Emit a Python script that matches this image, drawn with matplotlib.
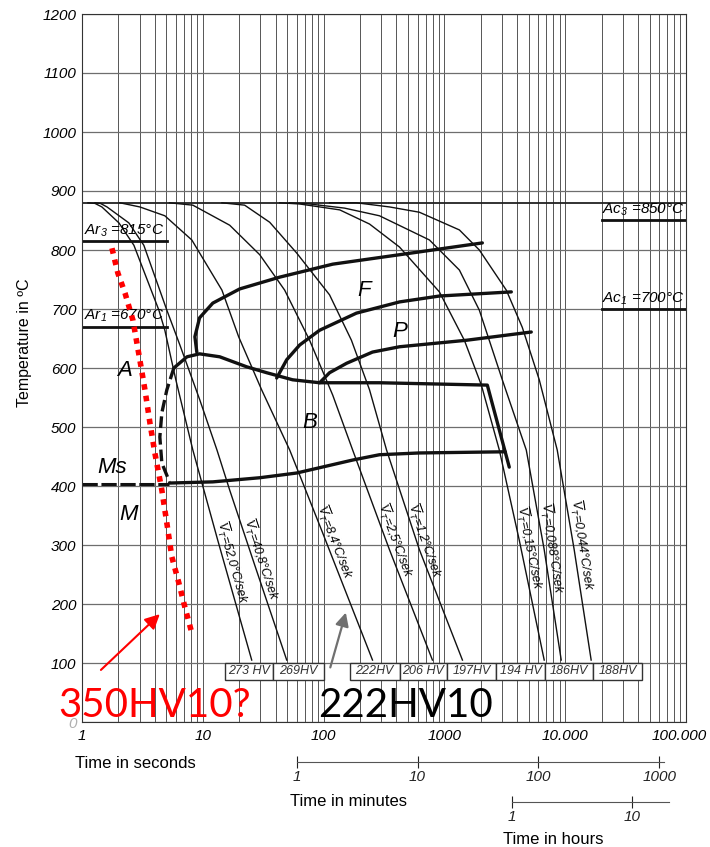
import numpy as np
import matplotlib
matplotlib.use('Agg')
import matplotlib.pyplot as plt
import matplotlib.transforms as mtransforms
from matplotlib.patches import Rectangle
from matplotlib.ticker import LogLocator, NullFormatter, FixedLocator

plt.rcParams['font.family'] = ['Liberation Sans', 'DejaVu Sans']
plt.rcParams['mathtext.fontset'] = 'custom'
plt.rcParams['mathtext.it'] = 'Liberation Sans:italic'
plt.rcParams['mathtext.rm'] = 'Liberation Sans:italic'

# Abkuehlkurven: Zeit [s], Temperatur [°C]
t_52 = [1.12, 1.28, 1.46, 2.02, 2.69, 4.33, 4.85, 5.98, 8.27, 13.3, 25.4]
T_52 = [880, 879, 873, 846, 808, 698, 664, 580, 461, 308, 105]
t_41 = [1.28, 1.42, 1.61, 2.44, 3.25, 5.04, 6.46, 9.44, 13.1, 16.7, 26.9, 49.5]
T_41 = [880, 879, 873, 846, 808, 698, 639, 546, 461, 393, 266, 105]
t_8 = [2.06, 3.01, 4.85, 8.11, 14.4, 19.8, 30.7, 52.4, 96.3, 254]
T_8 = [880, 873, 858, 817, 732, 653, 563, 461, 325, 105]
t_25 = [5.3, 8.27, 16.7, 29.6, 47.6, 76.6, 119, 174, 351, 796]
T_25 = [880, 876, 842, 792, 732, 647, 554, 461, 292, 105]
t_12 = [14.4, 22.2, 35.8, 59.8, 112, 170, 240, 332, 621, 1410]
T_12 = [880, 876, 847, 795, 724, 647, 563, 461, 292, 105]
t_015 = [43.3, 63.4, 136, 240, 425, 909, 1463, 2023, 2849, 4168, 6702]
T_015 = [880, 878, 868, 844, 805, 729, 647, 571, 461, 308, 105]
t_0088 = [52.4, 76.6, 149, 290, 752, 1331, 1946, 3015, 4762, 6702, 9270]
T_0088 = [880, 878, 871, 858, 817, 766, 698, 580, 461, 292, 105]
t_0044 = [112, 187, 351, 621, 1331, 1946, 3254, 4411, 6100, 8590, 11870, 16400]
T_0044 = [880, 880, 873, 864, 834, 800, 732, 669, 580, 461, 292, 105]

v_labels = ['52,0', '40,8', '8,4', '2,5', '1,2', '0,15', '0,088', '0,044']
v_label_T = [266, 271, 300, 303, 303, 292, 292, 297]

# Haerte je Abkuehlkurve
hv_labels = ['273 HV', '269HV', '222HV', '206 HV', '197HV', '194 HV', '186HV', '188HV']
hv_edges = [(15.2, 37.9), (37.9, 100), (164, 425), (425, 1059), (1059, 2692),
            (2692, 6839), (6839, 17030), (17030, 43300)]

# Umwandlungslinien
t_fs = [8.92, 8.6, 9.4, 12.1, 20.2, 43.3, 119, 425, 2061]
T_fs = [627, 653, 685, 710, 734, 754, 776, 792, 812]
t_fe = [40.9, 49.5, 63.4, 92.7, 187, 425, 909, 3580]
T_fe = [583, 614, 639, 664, 693, 712, 722, 729]
t_pe = [92.7, 112, 155, 254, 425, 1520, 5236]
T_pe = [575, 592, 608, 627, 636, 647, 661]
t_bs = [5.76, 7.4, 9.4, 13.8, 23.1, 33.8, 55.4, 92.7, 290, 2266, 3444]
T_bs = [600, 619, 624, 619, 602, 592, 580, 575, 575, 571, 432]
t_dash = [5.76, 5.04, 4.58, 4.41, 4.58, 5.3]
T_dash = [600, 563, 524, 483, 439, 407]
t_low = [5.3, 12.1, 29.6, 59.8, 174, 290, 621, 3186]
T_low = [405, 407, 414, 422, 444, 453, 456, 458]
t_ms = [1, 5.3]
T_ms = [403, 403]

T_aust = 880
Ar3, Ar1, Ac3, Ac1 = 815, 670, 850, 700

# rote Markierung
red_t = [1.77, 1.98, 2.27, 2.64, 3.01, 3.32, 3.65, 4.01, 4.58, 5.04, 5.54, 6.33, 7.10, 8.11]
red_T = [803, 761, 727, 681, 614, 563, 507, 456, 393, 337, 280, 236, 195, 151]

fig = plt.figure(figsize=(7.1, 8.47), dpi=100)
ax = fig.add_axes([82 / 710, 1 - 722 / 847, 604 / 710, 708 / 847])
ax.set_xscale('log')
ax.set_xlim(1, 1e5)
ax.set_ylim(0, 1200)

# Gitter
ax.set_yticks(range(0, 1201, 100))
ax.xaxis.set_major_locator(FixedLocator([1, 10, 100, 1000, 1e4, 1e5]))
ax.xaxis.set_minor_locator(LogLocator(base=10, subs=range(2, 10)))
ax.xaxis.set_minor_formatter(NullFormatter())
ax.grid(axis='y', color='#6e6e6e', lw=0.9)
ax.grid(axis='x', which='both', color='#3a3a3a', lw=0.6)
ax.set_axisbelow(True)
ax.tick_params(which='both', length=0)
ax.set_xticklabels(['1', '10', '100', '1000', '10.000', '100.000'],
                   fontstyle='italic', fontsize=11)
ax.set_yticklabels([str(v) for v in range(0, 1201, 100)], fontstyle='italic', fontsize=11)
ax.get_yticklabels()[0].set_color('#b0b0b0')
ax.tick_params(axis='x', pad=5)
ax.tick_params(axis='y', pad=4)
lab_last = ax.get_xticklabels()[-1]
lab_last.set_transform(lab_last.get_transform() +
                       mtransforms.ScaledTranslation(-5 / 72, 0, fig.dpi_scale_trans))
for s in ax.spines.values():
    s.set_color('#333333')
    s.set_linewidth(0.8)

# Austenitisierungstemperatur
ax.plot([1, 1e5], [T_aust, T_aust], color='#222222', lw=1.3)

curves = [(t_52, T_52), (t_41, T_41), (t_8, T_8), (t_25, T_25),
          (t_12, T_12), (t_015, T_015), (t_0088, T_0088), (t_0044, T_0044)]
for tt, TT in curves:
    ax.plot(tt, TT, color='#111111', lw=1.0, solid_joinstyle='round')

# Beschriftung der Kurven
for (tt, TT), lab, Tl in zip(curves, v_labels, v_label_T):
    lt = np.log10(tt)
    tx = 10 ** np.interp(Tl, TT[::-1], lt[::-1])
    tx2 = 10 ** np.interp(Tl - 20, TT[::-1], lt[::-1])
    p1 = ax.transData.transform((tx, Tl))
    p2 = ax.transData.transform((tx2, Tl - 20))
    ang = np.degrees(np.arctan2(p2[1] - p1[1], p2[0] - p1[0]))
    r = np.radians(ang)
    off = (-np.sin(r) * 6, np.cos(r) * 6)
    ax.annotate(r'$\overline{V}_T$=' + lab + '°C/sek', (tx, Tl), xytext=off,
                textcoords='offset points', rotation=ang, rotation_mode='anchor',
                ha='center', va='center', fontsize=9, fontstyle='italic')

# Umwandlungslinien
thick = dict(color='#111111', lw=2.4, solid_capstyle='round', solid_joinstyle='round')
ax.plot(t_fs, T_fs, **thick)
ax.plot(t_fe, T_fe, **thick)
ax.plot(t_pe, T_pe, **thick)
ax.plot(t_bs, T_bs, **thick)
ax.plot(t_low, T_low, **thick)
ax.plot(t_dash, T_dash, color='#111111', lw=2.4, dashes=(3.5, 1.5))
ax.plot(t_ms, T_ms, color='#111111', lw=2.2, dashes=(5, 1.2))

# Ar / Ac
ax.plot([1, 5.04], [Ar3, Ar3], color='#111111', lw=2.0)
ax.plot([1, 5.04], [Ar1, Ar1], color='#111111', lw=2.0)
ax.plot([20200, 1e5], [Ac3, Ac3], color='#111111', lw=2.0)
ax.plot([20200, 1e5], [Ac1, Ac1], color='#111111', lw=2.0)
ax.text(1.03, Ar3 + 4, r'$Ar_3$' + ' =%d°C' % Ar3, fontsize=11, fontstyle='italic', va='bottom')
ax.text(1.03, Ar1 + 4, r'$Ar_1$' + ' =%d°C' % Ar1, fontsize=11, fontstyle='italic', va='bottom')
ax.text(97000, Ac3 + 4, r'$Ac_3$' + ' =%d°C' % Ac3, fontsize=11, fontstyle='italic',
        va='bottom', ha='right')
ax.text(97000, Ac1 + 4, r'$Ac_1$' + ' =%d°C' % Ac1, fontsize=11, fontstyle='italic',
        va='bottom', ha='right')

# Gefuegebereiche
for s, (tx, ty) in zip(['F', 'P', 'A', 'B', 'Ms', 'M'],
                       [(218, 732), (425, 662), (2.27, 595), (76.6, 507), (1.77, 432), (2.45, 351)]):
    ax.text(tx, ty, s, fontsize=16, fontstyle='italic', ha='center', va='center')

# Haertewerte
for (a, b), lab in zip(hv_edges, hv_labels):
    ax.add_patch(Rectangle((a, 72), b - a, 28, facecolor='white', edgecolor='#333333',
                           lw=1.0, zorder=4))
    ax.text(np.sqrt(a * b), 86, lab, fontsize=9, fontstyle='italic', color='#333333',
            ha='center', va='center', zorder=5)

# Markierungen
ax.plot(red_t, red_T, color='red', lw=4, dashes=(1, 1.1), zorder=6)
ax.annotate('', xy=(4.58, 186), xytext=(1.38, 85),
            arrowprops=dict(arrowstyle='-|>', color='red', lw=1.5, mutation_scale=22), zorder=6)
ax.annotate('', xy=(155, 190), xytext=(112, 88),
            arrowprops=dict(arrowstyle='-|>', color='#707070', lw=1.6, mutation_scale=20), zorder=6)
fig.text(58 / 710, 1 - 717 / 847, '350HV10?', color='red', fontsize=29, family='Lato',
         va='baseline', ha='left')
fig.text(318 / 710, 1 - 717 / 847, '222HV10', color='black', fontsize=29, family='Lato',
         va='baseline', ha='left')

# Zeitskalen Minuten / Stunden
sec_m = ax.secondary_xaxis(-40 / 708, functions=(lambda x: x / 60, lambda x: x * 60))
sec_m.set_xticks([1, 10, 100, 1000])
sec_m.set_xticklabels(['1', '10', '100', '1000'], fontstyle='italic', fontsize=11)
sec_m.xaxis.set_minor_locator(FixedLocator([]))
sec_m.tick_params(direction='inout', length=8, width=0.8, pad=2, colors='#222222')
sec_m.spines['bottom'].set_bounds(1, 1100)
sec_m.spines['bottom'].set_color('#555555')

sec_h = ax.secondary_xaxis(-80 / 708, functions=(lambda x: x / 3600, lambda x: x * 3600))
sec_h.set_xticks([1, 10])
sec_h.set_xticklabels(['1', '10'], fontstyle='italic', fontsize=11)
sec_h.xaxis.set_minor_locator(FixedLocator([]))
sec_h.tick_params(direction='inout', length=8, width=0.8, pad=2, colors='#222222')
sec_h.spines['bottom'].set_bounds(1, 20)
sec_h.spines['bottom'].set_color('#555555')

fig.text(75 / 710, 1 - 763 / 847, 'Time in seconds', fontsize=12, va='center')
fig.text(290 / 710, 1 - 801 / 847, 'Time in minutes', fontsize=12, va='center')
fig.text(503 / 710, 1 - 839 / 847, 'Time in hours', fontsize=12, va='center')
fig.text(25 / 710, 1 - 343 / 847, 'Temperature in ºC', fontsize=11.5, rotation=90,
         va='center', ha='center')

fig.savefig('out.png', dpi=100)
